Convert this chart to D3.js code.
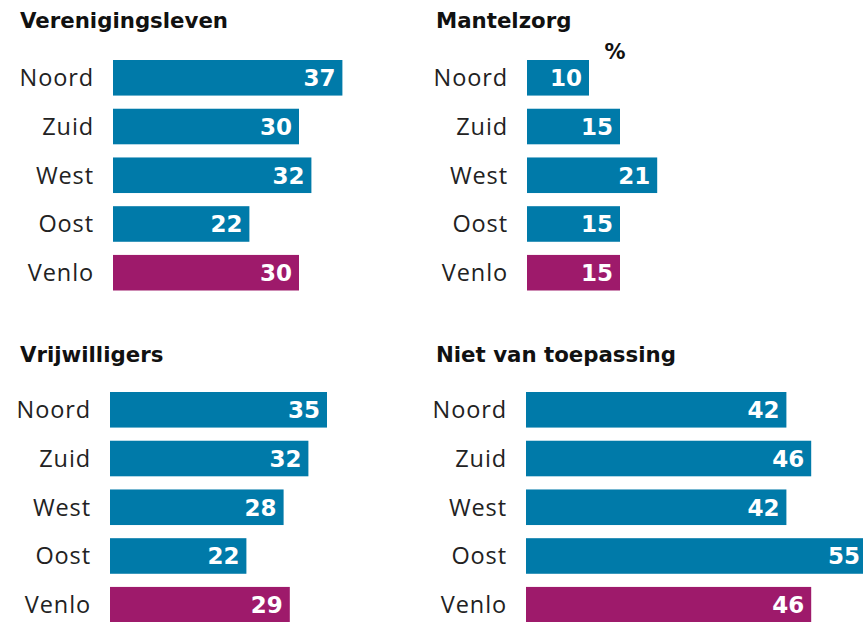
<!DOCTYPE html>
<html><head><meta charset="utf-8">
<script src="https://cdn.jsdelivr.net/npm/d3@7"></script>
<style>body{margin:0;background:#fff}svg{display:block}</style>
</head><body>
<svg id="c" width="863" height="622"></svg>
<script>
const categories = ["Noord","Zuid","West","Oost","Venlo"];
const titles = ["Verenigingsleven","Mantelzorg","Vrijwilligers","Niet van toepassing"];
const verenigingsleven = [37,30,32,22,30];
const mantelzorg = [10,15,21,15,15];
const vrijwilligers = [35,32,28,22,29];
const nietVanToepassing = [42,46,42,55,46];
const unitLabel = "%";

const series = [verenigingsleven, mantelzorg, vrijwilligers, nietVanToepassing];
const panels = [
  {x0:113, y0:60, tx:20, ty:28},
  {x0:527, y0:60, tx:436, ty:28},
  {x0:110, y0:392, tx:20, ty:362},
  {x0:526, y0:392, tx:436, ty:362}
];
const blue = "#007aa9", purple = "#9e1a6b";
const font = "'Open Sans', sans-serif";
const boldFont = "'DejaVu Sans', sans-serif";
const svg = d3.select("#c");
const x = d3.scaleLinear().domain([0,55]).range([0,341]);

panels.forEach((p,i)=>{
  const g = svg.append("g");
  const y = d3.scaleBand().domain(categories).range([p.y0, p.y0+230.5]).paddingInner(0.27).paddingOuter(0);
  g.append("text").attr("x",p.tx).attr("y",p.ty).text(titles[i])
    .attr("font-family",boldFont).attr("font-weight",700).attr("font-size",21.3).attr("fill","#111");
  const data = categories.map((c,j)=>({c, v:series[i][j]}));
  g.selectAll("rect").data(data).join("rect")
    .attr("x",p.x0).attr("y",d=>y(d.c)).attr("width",d=>x(d.v)).attr("height",y.bandwidth())
    .attr("fill",d=>d.c==="Venlo"?purple:blue);
  g.selectAll("text.lab").data(data).join("text").attr("class","lab")
    .attr("x",p.x0-19).attr("y",d=>y(d.c)+y.bandwidth()/2).attr("dy","0.36em")
    .attr("text-anchor","end").attr("font-family",font).attr("font-size",23.5).attr("letter-spacing",0.9).attr("fill","#222")
    .text(d=>d.c);
  g.selectAll("text.val").data(data).join("text").attr("class","val")
    .attr("x",d=>p.x0+x(d.v)-7).attr("y",d=>y(d.c)+y.bandwidth()/2).attr("dy","0.37em")
    .attr("text-anchor","end").attr("font-family",boldFont).attr("font-weight",700).attr("font-size",23).attr("fill","#fff")
    .text(d=>d.v);
});
svg.append("text").attr("x",615).attr("y",59).attr("text-anchor","middle")
  .attr("font-family",boldFont).attr("font-weight",700).attr("font-size",21).attr("fill","#111").text(unitLabel);
</script>
</body></html>
